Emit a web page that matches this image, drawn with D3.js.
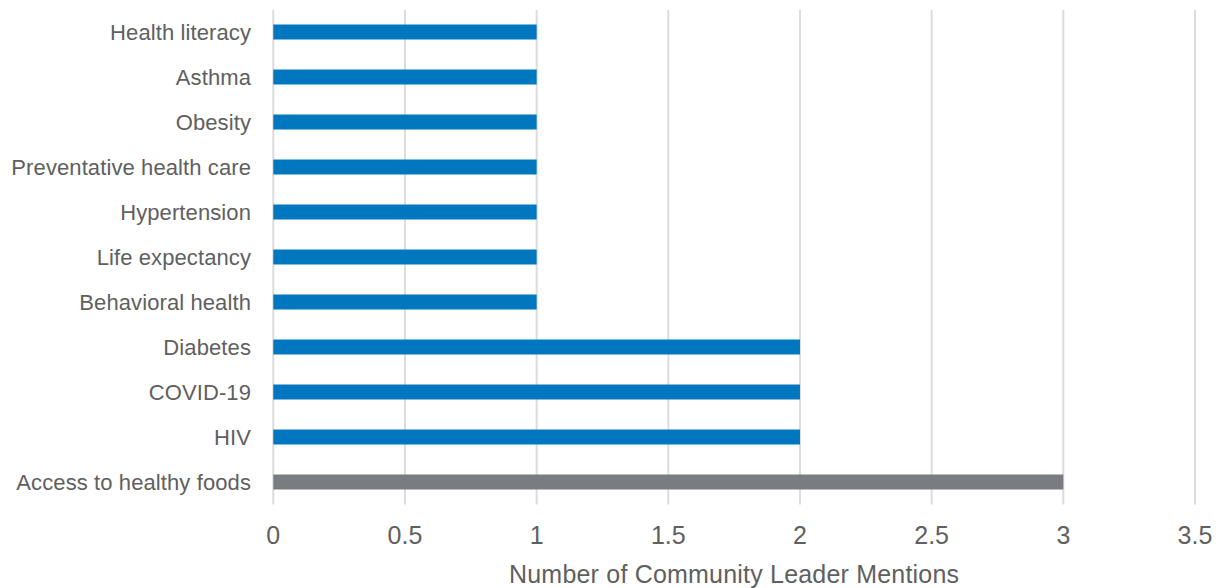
<!DOCTYPE html>
<html>
<head>
<meta charset="utf-8">
<script src="https://cdn.jsdelivr.net/npm/d3@7"></script>
<style>
  html, body { margin: 0; padding: 0; background: #fff; }
  svg text { font-family: "Liberation Sans", Arial, sans-serif; fill: #606060; }
</style>
</head>
<body>
<svg id="chart" width="1221" height="588"></svg>
<script>
// Topics mentioned by community leaders, listed top to bottom
const categories = [
  "Health literacy", "Asthma", "Obesity", "Preventative health care",
  "Hypertension", "Life expectancy", "Behavioral health", "Diabetes",
  "COVID-19", "HIV", "Access to healthy foods"
];
const mentions = [1, 1, 1, 1, 1, 1, 1, 2, 2, 2, 3];
const highlighted = ["Access to healthy foods"];
const xTicks = [0, 0.5, 1, 1.5, 2, 2.5, 3, 3.5];
const xTitle = "Number of Community Leader Mentions";

const svg = d3.select("#chart");
const margin = { left: 273.3, right: 26, top: 9.5, bottom: 83.5 };
const W = 1221, H = 588;

const x = d3.scaleLinear().domain([0, 3.5]).range([margin.left, W - margin.right]);
const y = d3.scaleBand().domain(categories).range([margin.top, H - margin.bottom]).paddingInner(0.66).paddingOuter(0.33);

// vertical gridlines
svg.append("g").selectAll("line").data(xTicks).join("line")
  .attr("x1", d => x(d)).attr("x2", d => x(d))
  .attr("y1", 10).attr("y2", H - margin.bottom)
  .attr("stroke", "#dcdcdc").attr("stroke-width", 2);

// bars
const bandH = 15;
svg.append("g").selectAll("rect").data(categories).join("rect")
  .attr("x", x(0))
  .attr("y", (d) => y(d) + y.bandwidth() / 2 - bandH / 2)
  .attr("width", (d, i) => x(mentions[i]) - x(0))
  .attr("height", bandH)
  .attr("fill", d => highlighted.includes(d) ? "#7b7c81" : "#0077bf");

// category labels
svg.append("g").selectAll("text").data(categories).join("text")
  .attr("x", 251)
  .attr("y", d => y(d) + y.bandwidth() / 2)
  .attr("dy", "0.35em")
  .attr("text-anchor", "end")
  .attr("font-size", 22)
  .attr("letter-spacing", 0.1)
  .text(d => d);

// x tick labels
svg.append("g").selectAll("text").data(xTicks).join("text")
  .attr("x", d => x(d))
  .attr("y", 535)
  .attr("dy", "0.35em")
  .attr("text-anchor", "middle")
  .attr("font-size", 25)
  .text(d => d3.format("~g")(d));

// axis title
svg.append("text")
  .attr("x", (x(0) + x(3.5)) / 2)
  .attr("y", 574)
  .attr("dy", "0.35em")
  .attr("text-anchor", "middle")
  .attr("font-size", 25)
  .attr("letter-spacing", 0.2)
  .text(xTitle);
</script>
</body>
</html>
